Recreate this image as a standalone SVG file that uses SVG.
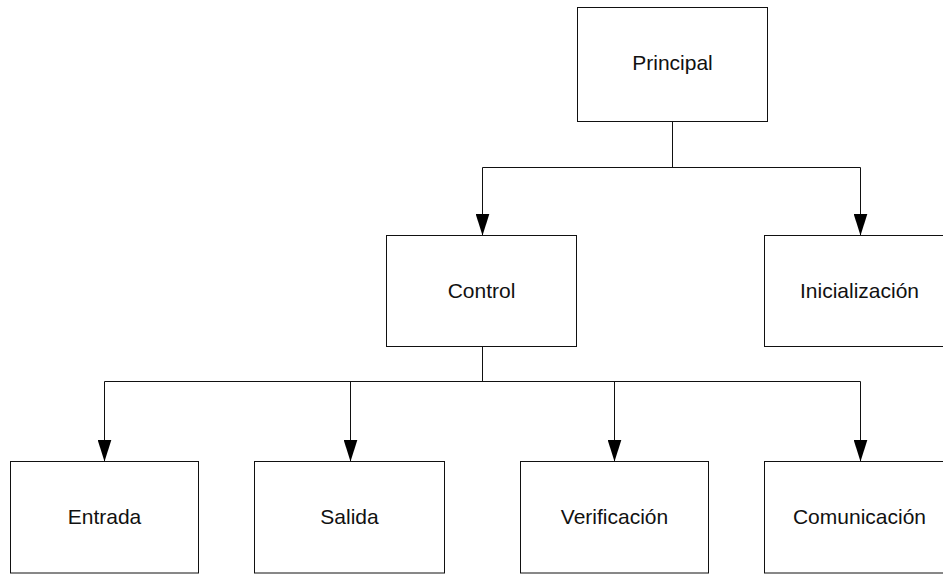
<svg xmlns="http://www.w3.org/2000/svg" width="943" height="574" viewBox="0 0 943 574">
  <style>
    .box { fill: #ffffff; stroke: #111111; stroke-width: 1; }
    .lbl { font-family: "Liberation Sans", Arial, sans-serif; font-size: 21px; fill: #111111; text-anchor: middle; }
    .wire { fill: none; stroke: #111111; stroke-width: 1; }
  </style>
  <defs>
    <marker id="arrow" viewBox="0 0 22 14" refX="22" refY="7" markerWidth="22" markerHeight="14" markerUnits="userSpaceOnUse" orient="auto">
      <path d="M0,0 L22,7 L0,14 z" fill="#000000"/>
    </marker>
  </defs>
  <rect width="943" height="574" fill="#ffffff"/>

  <g id="connectors">
    <!-- Principal to its two children -->
    <path class="wire" d="M672.5,121.5 V167.5"/>
    <path class="wire" d="M482.5,167.5 H860.5"/>
    <path class="wire" d="M482.5,167.5 V235.5" marker-end="url(#arrow)"/>
    <path class="wire" d="M860.5,167.5 V235.5" marker-end="url(#arrow)"/>
    <!-- Control to the four modules below -->
    <path class="wire" d="M482.5,346.5 V381.5"/>
    <path class="wire" d="M104.5,381.5 H860.5"/>
    <path class="wire" d="M104.5,381.5 V461.5" marker-end="url(#arrow)"/>
    <path class="wire" d="M350.5,381.5 V461.5" marker-end="url(#arrow)"/>
    <path class="wire" d="M614.5,381.5 V461.5" marker-end="url(#arrow)"/>
    <path class="wire" d="M860.5,381.5 V461.5" marker-end="url(#arrow)"/>
  </g>

  <g id="principal">
    <rect class="box" x="577.5" y="7.5" width="190" height="114"/>
    <text class="lbl" x="672.5" y="70">Principal</text>
  </g>
  <g id="control">
    <rect class="box" x="386.5" y="235.5" width="190" height="111"/>
    <text class="lbl" x="481.5" y="298">Control</text>
  </g>
  <g id="inicializacion">
    <rect class="box" x="764.5" y="235.5" width="190" height="111"/>
    <text class="lbl" x="859.5" y="298">Inicialización</text>
  </g>
  <g id="entrada">
    <rect class="box" x="10.5" y="461.5" width="188" height="111.5"/>
    <text class="lbl" x="104.5" y="524">Entrada</text>
  </g>
  <g id="salida">
    <rect class="box" x="254.5" y="461.5" width="190" height="111.5"/>
    <text class="lbl" x="349.5" y="524">Salida</text>
  </g>
  <g id="verificacion">
    <rect class="box" x="520.5" y="461.5" width="188" height="111.5"/>
    <text class="lbl" x="614.5" y="524">Verificación</text>
  </g>
  <g id="comunicacion">
    <rect class="box" x="764.5" y="461.5" width="190" height="111.5"/>
    <text class="lbl" x="859.5" y="524">Comunicación</text>
  </g>
</svg>
